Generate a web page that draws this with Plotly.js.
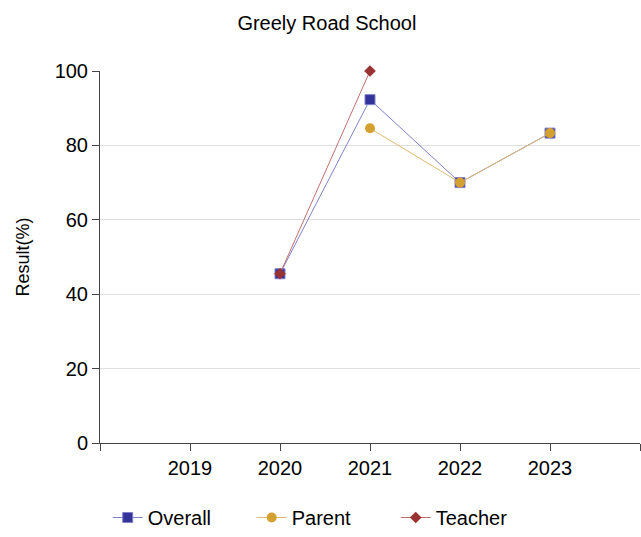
<!DOCTYPE html>
<html><head><meta charset="utf-8">
<script src="https://cdn.plot.ly/plotly-3.0.1.min.js"></script>
<style>body{margin:0;padding:0;}#chart{width:641px;height:537px;}</style>
</head><body><div id="chart"></div>
<script>
const years = [2020, 2021, 2022, 2023];
const overall = [45.5, 92.3, 70, 83.3];
const parent = [null, 84.6, 70, 83.3];
const teacher = [45.5, 100, null, null];
const tickVals = [2018, 2019, 2020, 2021, 2022, 2023, 2024];
const tickText = ['', '2019', '2020', '2021', '2022', '2023', ''];

const traces = [
  {x: years, y: overall, name: 'Overall', mode: 'lines+markers', cliponaxis: false,
   line: {color: '#8080cc', width: 1}, marker: {symbol: 'square', size: 10, color: '#333399', line:{color:'#8080cc',width:1}}},
  {x: years, y: parent, name: 'Parent', mode: 'lines+markers', cliponaxis: false,
   line: {color: '#e0b870', width: 1}, marker: {symbol: 'circle', size: 10, color: '#d4a02f'}},
  {x: years, y: teacher, name: 'Teacher', mode: 'lines+markers', cliponaxis: false,
   line: {color: '#c07070', width: 1}, marker: {symbol: 'diamond', size: 9, color: '#993333'}}
];
const layout = {
  width: 641, height: 537,
  margin: {l: 100, r: 1, t: 71, b: 94},
  paper_bgcolor: '#fff', plot_bgcolor: '#fff',
  font: {family: 'Liberation Sans, Arial, sans-serif', size: 20, color: '#000'},
  title: {text: 'Greely Road School', x: 0.51, xanchor: 'center', y: 0.957, yanchor: 'middle', font: {size: 20}},
  xaxis: {range: [2018, 2024], tickmode: 'array', tickvals: tickVals, ticktext: tickText, automargin: false,
    showgrid: false, zeroline: false, showline: true, linecolor: '#444', linewidth: 1,
    ticks: 'outside', ticklen: 7, tickcolor: '#444', tickfont: {size: 20}},
  yaxis: {range: [0, 100], tickvals: [0, 20, 40, 60, 80, 100], showgrid: true, gridcolor: '#e0e0e0', automargin: false,
    zeroline: false, showline: true, linecolor: '#444', linewidth: 1,
    ticks: 'outside', ticklen: 7, tickcolor: '#444', tickfont: {size: 20},
    title: {text: 'Result(%)', font: {size: 18}, standoff: 20}},
  legend: {orientation: 'h', xref: 'container', yref: 'container', x: 0.505, xanchor: 'center', y: -0.011, yanchor: 'bottom',
    entrywidth: 99, font: {size: 20}},
  showlegend: true
};
Plotly.newPlot('chart', traces, layout, {displayModeBar: false, staticPlot: true});
</script></body></html>
